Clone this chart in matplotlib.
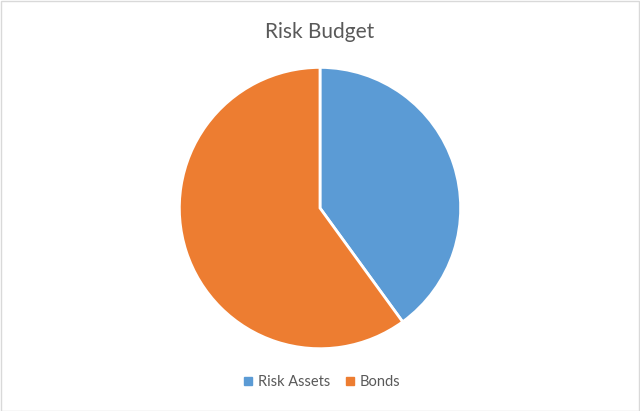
import matplotlib.pyplot as plt
from matplotlib.patches import Rectangle

categorias = ['Risk Assets', 'Bonds']
valores = [40, 60]
colores = ['#5B9BD5', '#ED7D31']

fig = plt.figure(figsize=(6.4, 4.11), dpi=100)
plt.rcParams['font.family'] = ['Lato', 'DejaVu Sans']

# Area del pastel
ax = fig.add_axes([0.28125, 0.1533, 0.4375, 0.681])
ax.pie(valores, colors=colores, startangle=90, counterclock=False,
       wedgeprops=dict(edgecolor='white', linewidth=2))
ax.set_xlim(-0.995, 0.995)
ax.set_ylim(-0.995, 0.995)
ax.set_aspect('equal')

fig.text(0.5, 0.922, 'Risk Budget', ha='center', va='center',
         fontsize=15, color='#595959')

# Leyenda
handles = [plt.Line2D([], [], marker='s', linestyle='', color=c, markersize=5.5)
           for c in colores]
fig.legend(handles, categorias, loc='center', bbox_to_anchor=(0.5, 0.07),
           ncol=2, frameon=False, fontsize=10.5, handletextpad=0.05,
           columnspacing=0.8, handlelength=1.2, labelcolor='#595959')

# Borde de la figura
fig.patches.append(Rectangle((0.001, 0.001), 0.998, 0.997, transform=fig.transFigure,
                             fill=False, edgecolor='#D9D9D9', linewidth=1))

fig.savefig('out.png', dpi=100)
